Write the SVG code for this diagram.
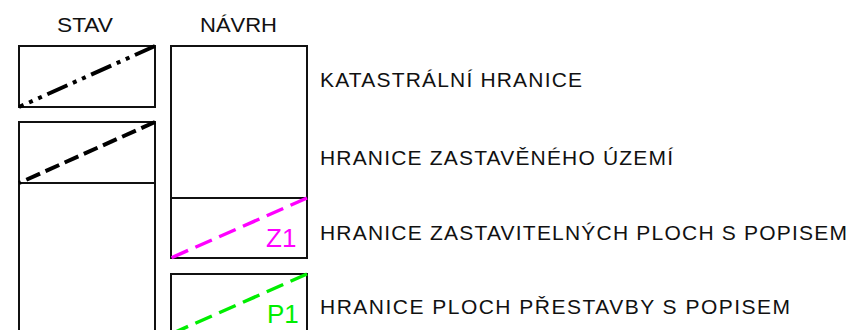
<svg xmlns="http://www.w3.org/2000/svg" width="853" height="330" viewBox="0 0 853 330">
  <style>
    .box { fill: none; stroke: #111; stroke-width: 2; }
    .txt { font-family: "Liberation Sans", Arial, sans-serif; font-size: 21px; fill: #111; }
    .hdr { font-family: "Liberation Sans", Arial, sans-serif; font-size: 21px; fill: #111; }
    .lbl { font-family: "Liberation Sans", Arial, sans-serif; font-size: 26px; }
    .diag { fill: none; stroke-width: 3.5; stroke-linecap: butt; }
    .blk { stroke: #000; stroke-width: 4; }
  </style>
  <rect width="853" height="330" fill="#fff"/>

  <g id="headers">
    <text class="hdr" x="57" y="32" textLength="56" lengthAdjust="spacingAndGlyphs">STAV</text>
    <text class="hdr" x="200" y="32" textLength="77" lengthAdjust="spacingAndGlyphs">NÁVRH</text>
  </g>

  <g id="stav-katastralni">
    <rect class="box" x="19" y="46" width="136" height="61"/>
  </g>
  <g id="stav-zastaveneho">
    <rect class="box" x="19" y="122" width="136" height="61"/>
  </g>
  <g id="stav-empty">
    <rect class="box" x="19" y="183" width="136" height="160"/>
  </g>

  <g id="navrh-empty">
    <rect class="box" x="171" y="46" width="136" height="152"/>
  </g>
  <g id="navrh-zastavitelne">
    <rect class="box" x="171" y="198" width="136" height="60"/>
    <text class="lbl" x="266" y="247" fill="#ff00ff">Z1</text>
  </g>
  <g id="navrh-prestavba">
    <rect class="box" x="171" y="274" width="136" height="70"/>
    <text class="lbl" x="267" y="323" fill="#00ee00">P1</text>
  </g>

  <g id="connectors">
    <line class="diag blk" x1="155" y1="46" x2="19" y2="107" stroke-dasharray="22 6 4 6 4 6"/>
    <line class="diag blk" x1="155" y1="122" x2="19" y2="183" stroke-dasharray="15 6"/>
    <line class="diag" x1="307" y1="198" x2="171" y2="258" stroke="#ff00ff" stroke-dasharray="18 8"/>
    <line class="diag" x1="307" y1="274" x2="171" y2="334" stroke="#00ee00" stroke-dasharray="18 8"/>
  </g>

  <g id="legend-texts">
    <text class="txt" x="320" y="87" textLength="262" lengthAdjust="spacing">KATASTRÁLNÍ HRANICE</text>
    <text class="txt" x="320" y="165" textLength="353" lengthAdjust="spacing">HRANICE ZASTAVĚNÉHO ÚZEMÍ</text>
    <text class="txt" x="320" y="240" textLength="527" lengthAdjust="spacing">HRANICE ZASTAVITELNÝCH PLOCH S POPISEM</text>
    <text class="txt" x="320" y="314" textLength="470" lengthAdjust="spacing">HRANICE PLOCH PŘESTAVBY S POPISEM</text>
  </g>
</svg>
